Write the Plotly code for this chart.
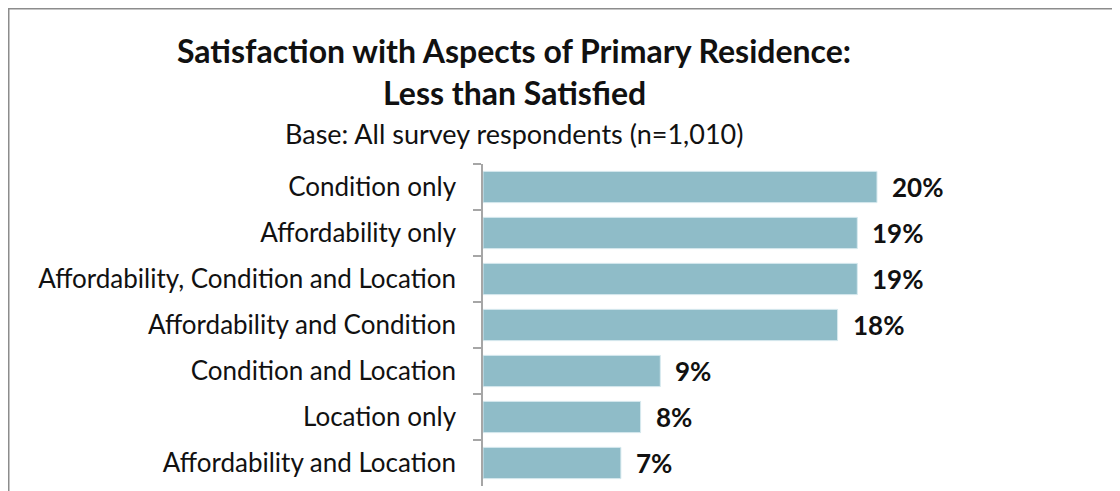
import plotly.graph_objects as go

categories = [
    "Condition only",
    "Affordability only",
    "Affordability, Condition and Location",
    "Affordability and Condition",
    "Condition and Location",
    "Location only",
    "Affordability and Location",
]
values = [20, 19, 19, 18, 9, 8, 7]

TITLE = "<b>Satisfaction with Aspects of Primary Residence:</b>"
TITLE2 = "<b>Less than Satisfied</b>"
SUBTITLE = "Base: All survey respondents (n=1,010)"

BAR_COLOUR = "#8fbcc8"
AXIS_COLOUR = "#a6a6a6"
FONT = "Lato"

# the page body adds an 8px margin, so targets are measured minus 8
W, H = 1120, 491
L, R, T, B = 475, 54, 156, 13
pw, ph = W - L - R, H - T - B


def px_x(x):
    return (x - L) / pw


def px_y(y):
    return (H - B - y) / ph


fig = go.Figure(
    go.Bar(
        x=values, y=categories, orientation="h",
        marker=dict(color=BAR_COLOUR, line=dict(color="#d8eaef", width=1)),
        width=0.68, showlegend=False, hoverinfo="skip",
    )
)

for c, v in zip(categories, values):
    fig.add_annotation(x=v, y=c, text=f"<b>{v}%</b>", showarrow=False,
                       xanchor="left", xshift=13,
                       font=dict(family=FONT, size=26, color="#111"))

for txt, y, size in [(TITLE, 42, 32), (TITLE2, 85, 32), (SUBTITLE, 125, 27)]:
    fig.add_annotation(x=px_x(506), y=px_y(y), xref="paper", yref="paper", text=txt,
                       xanchor="center", yanchor="middle", showarrow=False,
                       font=dict(family=FONT, size=size, color="#111"))

# outer frame of the chart (cut off right and bottom)
fig.add_shape(type="rect", xref="paper", yref="paper",
              x0=px_x(0.75), x1=px_x(1300), y0=px_y(0.75), y1=px_y(700),
              line=dict(color="#8c8c8c", width=1.5))

fig.update_layout(
    width=W, height=H,
    margin=dict(l=L, r=R, t=T, b=B, autoexpand=False),
    plot_bgcolor="white", paper_bgcolor="white",
    font=dict(family=FONT, size=26, color="#111"),
    xaxis=dict(range=[0, 30], visible=False, fixedrange=True),
    yaxis=dict(
        autorange="reversed", showline=True, linecolor=AXIS_COLOUR, linewidth=1.5,
        ticks="outside", ticklen=8, tickcolor=AXIS_COLOUR, tickwidth=1.5,
        tickson="boundaries", ticklabelstandoff=20, showgrid=False, automargin=False,
        tickfont=dict(family=FONT, size=26, color="#111"),
    ),
)

fig.write_html("out.html")
